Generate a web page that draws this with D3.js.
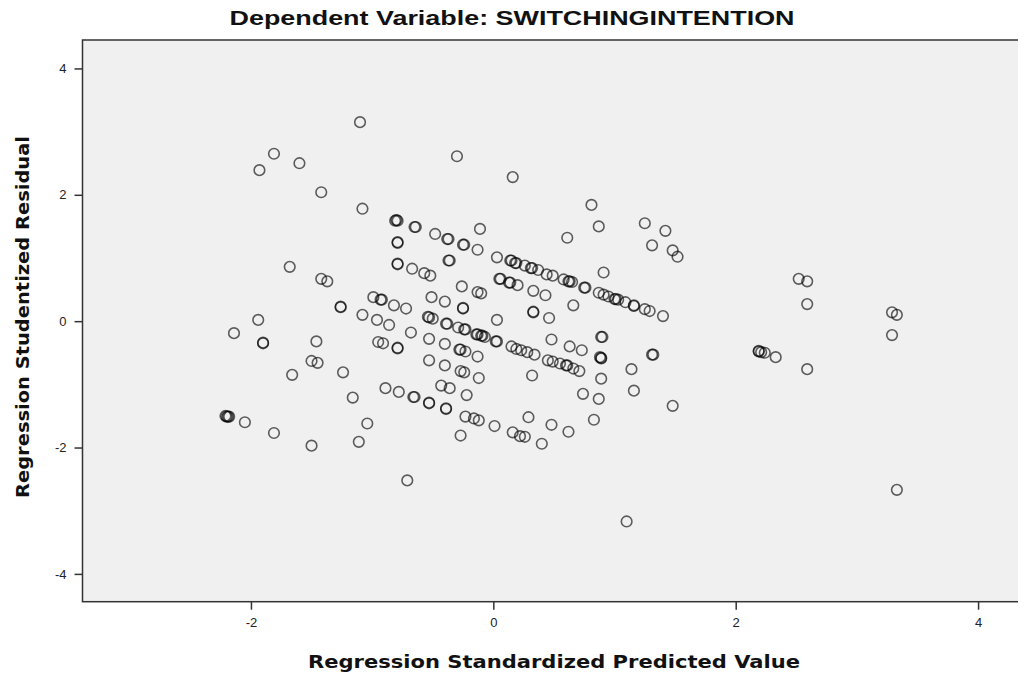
<!DOCTYPE html>
<html><head><meta charset="utf-8">
<script src="https://cdn.jsdelivr.net/npm/d3@7"></script>
<style>body{margin:0;background:#fff}svg{display:block}</style>
</head><body><svg id="c" width="1018" height="673"></svg>
<script>
const title = "Dependent Variable: SWITCHINGINTENTION";
const xLabel = "Regression Standardized Predicted Value";
const yLabel = "Regression Studentized Residual";
const xTicks = [-2, 0, 2, 4];
const yTicks = [-4, -2, 0, 2, 4];

// Regression standardized predicted value (x) and studentized residual (y)
const predicted = [
 -1.10,-1.81,-1.93,-1.60,-0.30,-1.42,-1.08,0.16,0.81,0.87,1.25,1.42,1.31,1.48,1.52,0.61,-0.11,0.91,
 -0.80,-0.79,-0.81,-0.65,-0.64,-0.48,-0.38,-0.37,-0.25,-0.24,-0.13,-0.79,-0.79,0.03,-0.79,-0.79,
 -0.67,-0.57,-0.52,-0.37,-0.36,-1.68,-1.42,-1.37,-0.26,-0.13,-0.10,-0.51,-0.40,-0.25,-0.25,
 -0.99,-0.93,-0.92,-0.82,-0.72,-1.26,-1.26,-1.08,-0.96,-0.86,-0.53,-0.54,-0.50,-0.39,-0.38,
 -0.29,-0.24,-0.23,-0.14,-0.13,-0.10,-0.09,-0.07,0.02,0.03,0.03,-0.68,-0.53,-0.40,
 -1.94,-2.14,-1.90,-1.90,-1.46,-0.95,-0.91,-0.79,-0.79,-0.27,-0.28,-0.23,-0.13,
 -1.50,-1.45,-1.66,-1.24,-0.53,-0.40,-0.27,-0.24,-0.12,-0.43,-0.36,-0.22,-0.89,-0.78,
 -0.66,-0.65,-0.53,-0.53,-0.39,-0.39,-0.23,-0.16,-0.12,0.01,-0.27,-1.16,-1.11,-1.04,-0.71,
 -2.20,-2.19,-2.18,-2.21,-2.05,-1.81,-1.50,
 0.14,0.15,0.18,0.19,0.26,0.32,0.31,0.37,0.44,0.49,0.58,0.62,0.63,0.65,0.76,0.75,0.87,0.91,0.95,
 1.00,1.01,1.03,1.09,1.16,1.16,1.25,1.29,1.40,0.06,0.05,0.14,0.13,0.20,0.33,0.43,0.66,0.33,0.33,0.46,
 0.15,0.19,0.23,0.28,0.34,0.48,0.63,0.73,0.45,0.49,0.55,0.61,0.60,0.66,0.71,0.32,
 0.89,0.90,0.89,0.89,0.88,0.89,1.14,1.31,1.32,1.16,0.74,0.87,0.83,1.48,
 0.29,0.48,0.62,0.16,0.22,0.26,0.40,1.10,
 2.52,2.59,2.59,3.29,3.33,3.29,2.19,2.19,2.21,2.24,2.33,2.59,3.33
];
const residual = [
 3.15,2.65,2.39,2.50,2.61,2.04,1.78,2.28,1.84,1.50,1.55,1.43,1.20,1.12,1.02,1.32,1.46,0.77,
 1.60,1.59,1.59,1.49,1.49,1.38,1.30,1.30,1.21,1.21,1.13,1.25,1.24,1.01,0.91,0.90,
 0.83,0.76,0.72,0.96,0.96,0.86,0.67,0.63,0.55,0.46,0.44,0.38,0.31,0.20,0.21,
 0.38,0.34,0.34,0.25,0.20,0.22,0.23,0.10,0.02,-0.06,0.06,0.07,0.04,-0.04,-0.04,
 -0.10,-0.13,-0.13,-0.21,-0.21,-0.23,-0.23,-0.25,-0.32,-0.32,0.02,-0.18,-0.28,-0.36,
 0.02,-0.19,-0.34,-0.35,-0.32,-0.33,-0.35,-0.43,-0.42,-0.45,-0.45,-0.48,-0.56,
 -0.63,-0.66,-0.85,-0.81,-0.62,-0.70,-0.79,-0.81,-0.90,-1.02,-1.06,-1.17,-1.06,-1.12,
 -1.20,-1.20,-1.29,-1.30,-1.38,-1.39,-1.51,-1.54,-1.57,-1.66,-1.81,-1.21,-1.91,-1.62,-2.52,
 -1.51,-1.51,-1.51,-1.50,-1.60,-1.77,-1.97,
 0.96,0.96,0.92,0.92,0.88,0.84,0.84,0.81,0.74,0.72,0.66,0.63,0.63,0.62,0.53,0.53,0.45,0.42,0.39,
 0.35,0.35,0.34,0.30,0.25,0.24,0.19,0.16,0.08,0.67,0.67,0.61,0.61,0.57,0.48,0.41,0.25,0.14,0.15,0.05,
 -0.40,-0.44,-0.46,-0.49,-0.53,-0.29,-0.40,-0.46,-0.62,-0.64,-0.67,-0.70,-0.70,-0.75,-0.79,-0.86,
 -0.25,-0.25,-0.58,-0.59,-0.57,-0.91,-0.76,-0.53,-0.53,-1.10,-1.15,-1.23,-1.56,-1.34,
 -1.52,-1.64,-1.75,-1.76,-1.82,-1.83,-1.94,-3.17,
 0.67,0.63,0.27,0.14,0.10,-0.22,-0.47,-0.48,-0.49,-0.50,-0.57,-0.76,-2.67
];

const svg = d3.select("#c");
const L = 82.5, T = 40, B = 601.7, R = 1032;
const x = d3.scaleLinear().domain([-3.39, 4.445]).range([L, R]);
const y = d3.scaleLinear().domain([-4.44, 4.45]).range([B, T]);

svg.append("defs").append("clipPath").attr("id","pc")
  .append("rect").attr("x", L).attr("y", T).attr("width", R - L).attr("height", B - T);

svg.append("rect").attr("x", L).attr("y", T).attr("width", R - L).attr("height", B - T)
  .attr("fill", "#f0f0f0");

const pts = predicted.map((v, i) => [v, residual[i]]);
svg.append("g").attr("clip-path","url(#pc)")
  .selectAll("circle").data(pts).join("circle")
  .attr("cx", d => x(d[0])).attr("cy", d => y(d[1])).attr("r", 5.3)
  .attr("fill", "none").attr("stroke", "#000").attr("stroke-opacity", 0.62).attr("stroke-width", 1.6);

svg.append("rect").attr("x", L).attr("y", T).attr("width", R - L).attr("height", B - T)
  .attr("fill", "none").attr("stroke", "#333").attr("stroke-width", 1.5);

const fmt = d => String(d);
const xAxis = svg.append("g").attr("transform", `translate(0,${B})`)
  .call(d3.axisBottom(x).tickValues(xTicks).tickSize(8).tickPadding(8).tickFormat(fmt));
const yAxis = svg.append("g").attr("transform", `translate(${L},0)`)
  .call(d3.axisLeft(y).tickValues(yTicks).tickSize(8).tickPadding(8).tickFormat(fmt));
[xAxis, yAxis].forEach(g => {
  g.select(".domain").remove();
  g.selectAll(".tick line").attr("stroke", "#333").attr("stroke-width", 1.5);
  g.selectAll(".tick text").attr("fill", "#222").style("font-family", "'Liberation Sans', Arial, sans-serif").style("font-size", "13px");
});

svg.append("text").attr("x", 512).attr("y", 25).attr("text-anchor", "middle")
  .attr("textLength", 565).attr("lengthAdjust", "spacingAndGlyphs")
  .style("font-family", "'Liberation Sans Narrow', 'Liberation Sans', Arial, sans-serif")
  .style("font-size", "20px").style("font-weight", "bold").attr("fill", "#111").text(title);

svg.append("text").attr("x", 554).attr("y", 668).attr("text-anchor", "middle")
  .attr("textLength", 492).attr("lengthAdjust", "spacingAndGlyphs")
  .style("font-family", "'DejaVu Sans', Verdana, sans-serif")
  .style("font-size", "17px").style("font-weight", "bold").attr("fill", "#111").text(xLabel);

svg.append("text").attr("transform", "translate(29,317) rotate(-90)").attr("text-anchor", "middle")
  .attr("textLength", 362).attr("lengthAdjust", "spacingAndGlyphs")
  .style("font-family", "'DejaVu Sans', Verdana, sans-serif")
  .style("font-size", "17px").style("font-weight", "bold").attr("fill", "#111").text(yLabel);
</script></body></html>
